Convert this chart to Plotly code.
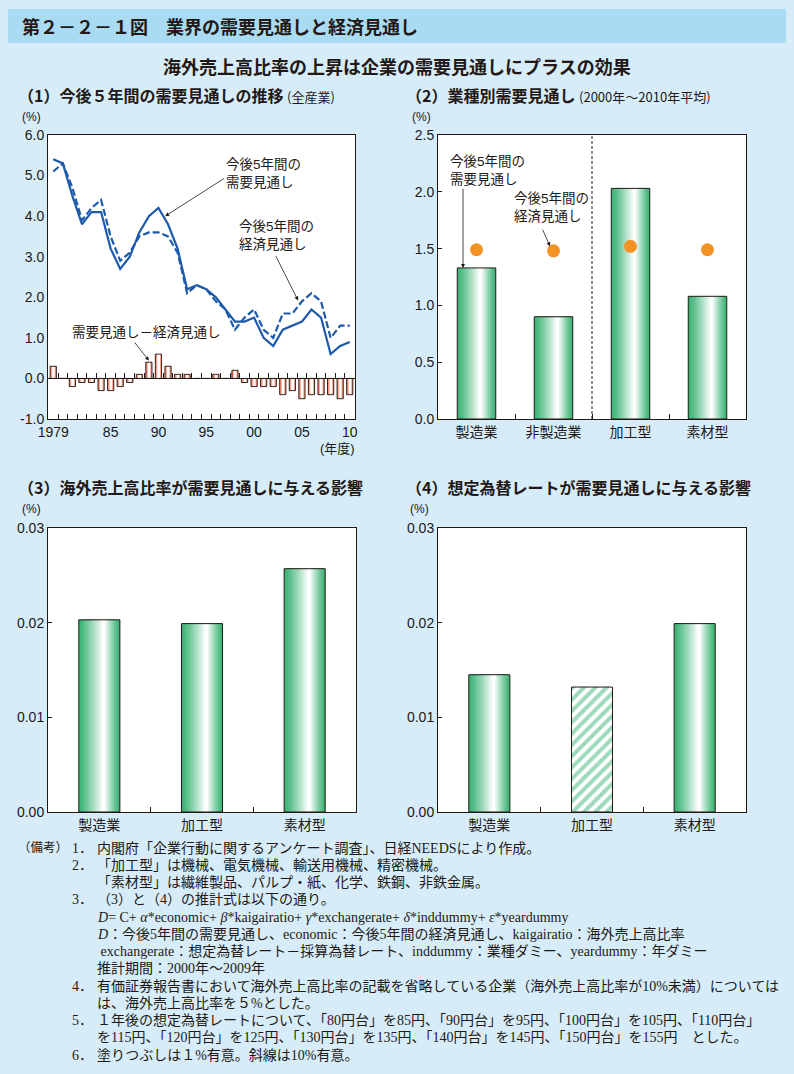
import plotly.graph_objects as go

W, H = 794, 1074
BG = '#d6edf9'
BAND = '#a9dbf3'
INK = '#231815'
JP = 'Noto Sans CJK JP'
NUM = 'Liberation Sans'
SANS_MIX = 'Liberation Sans, Noto Sans CJK JP'
SERIF_MIX = 'Liberation Serif, Noto Sans CJK JP'
BLUE = '#1d5aab'
GREEN = '#3cb475'
SALMON = '#f07b58'
ORANGE = '#f39325'

# ---------------- data ----------------
years = list(range(1979, 2011))
demand_outlook = [5.4, 5.3, 4.5, 3.8, 4.1, 4.1, 3.2, 2.7, 3.0, 3.6,
                  4.0, 4.2, 3.8, 3.2, 2.2, 2.3, 2.2, 2.0, 1.7, 1.4,
                  1.4, 1.5, 1.0, 0.8, 1.2, 1.3, 1.4, 1.7, 1.5, 0.6,
                  0.8, 0.9]
economic_outlook = [5.1, 5.3, 4.7, 3.9, 4.2, 4.4, 3.5, 2.9, 3.1, 3.5,
                    3.6, 3.6, 3.5, 3.1, 2.1, 2.3, 2.2, 1.9, 1.7, 1.2,
                    1.5, 1.7, 1.2, 1.0, 1.6, 1.6, 1.9, 2.1, 1.9, 1.0,
                    1.3, 1.3]
demand_minus_economic = [0.3, 0.0, -0.2, -0.1, -0.1, -0.3, -0.3, -0.2, -0.1, 0.1,
                         0.4, 0.6, 0.3, 0.1, 0.1, 0.0, 0.0, 0.1, 0.0, 0.2,
                         -0.1, -0.2, -0.2, -0.2, -0.4, -0.3, -0.5, -0.4, -0.4, -0.4,
                         -0.5, -0.4]
year_tickvals = [1979, 1985, 1990, 1995, 2000, 2005, 2010]
year_ticktext = ['1979', '85', '90', '95', '00', '05', '10']
p1_tickvals = [-1, 0, 1, 2, 3, 4, 5, 6]
p1_ticktext = ['-1.0', '0.0', '1.0', '2.0', '3.0', '4.0', '5.0', '6.0']

sector_cats = ['製造業', '非製造業', '加工型', '素材型']
sector_demand = [1.33, 0.90, 2.03, 1.08]
sector_economic = [1.49, 1.48, 1.52, 1.49]

impact_cats = ['製造業', '加工型', '素材型']
kaigai_effect = [0.0203, 0.0199, 0.0257]
fxrate_effect = [0.0145, 0.0132, 0.0199]

# ---------------- helpers ----------------
def fx(p):
    return p / W

def fy(p):
    return 1 - p / H

def hex2rgb(h):
    h = h.lstrip('#')
    return tuple(int(h[i:i + 2], 16) for i in (0, 2, 4))

def mix(c1, c2, t):
    a, b = hex2rgb(c1), hex2rgb(c2)
    return 'rgb(%d,%d,%d)' % tuple(round(a[i] + (b[i] - a[i]) * t) for i in range(3))

fig = go.Figure()

def grad_bars(x, y, width, edge, xa, ya, n=14, shift=0.1, lw=1.0):
    for k in range(n):
        t = k / (n - 1)
        w = width * (1 - k / n)
        col = mix(edge, '#ffffff', t ** 1.15)
        c = shift * width * t
        fig.add_trace(go.Bar(x=x, y=y, width=w, offset=c - w / 2,
                             marker=dict(color=col, line=dict(width=0)),
                             xaxis=xa, yaxis=ya, hoverinfo='skip', showlegend=False))
    fig.add_trace(go.Bar(x=x, y=y, width=width, offset=-width / 2,
                         marker=dict(color='rgba(0,0,0,0)', line=dict(color=INK, width=lw)),
                         xaxis=xa, yaxis=ya, hoverinfo='skip', showlegend=False))

# ---------------- panel 1 ----------------
grad_bars(years, demand_minus_economic, 0.65, SALMON, 'x5', 'y', n=8, shift=0.05, lw=0.9)
fig.add_trace(go.Scatter(x=years, y=economic_outlook, mode='lines',
                         line=dict(color=BLUE, width=2.2, dash='7px,3px'),
                         xaxis='x', yaxis='y', showlegend=False))
fig.add_trace(go.Scatter(x=years, y=demand_outlook, mode='lines',
                         line=dict(color=BLUE, width=2.2),
                         xaxis='x', yaxis='y', showlegend=False))

# ---------------- panel 2 ----------------
grad_bars(sector_cats, sector_demand, 0.5, GREEN, 'x2', 'y2')
fig.add_trace(go.Scatter(x=sector_cats, y=sector_economic, mode='markers',
                         marker=dict(color=ORANGE, size=13),
                         xaxis='x2', yaxis='y2', showlegend=False))

# ---------------- panel 3 ----------------
grad_bars(impact_cats, kaigai_effect, 0.4, GREEN, 'x3', 'y3')

# ---------------- panel 4 ----------------
grad_bars([impact_cats[0], impact_cats[2]], [fxrate_effect[0], fxrate_effect[2]],
          0.4, GREEN, 'x4', 'y4')
fig.add_trace(go.Bar(x=[impact_cats[1]], y=[fxrate_effect[1]], width=0.4, offset=-0.2,
                     marker=dict(color='white',
                                 pattern=dict(shape='/', fgcolor=GREEN, bgcolor='white',
                                              size=8, solidity=0.5),
                                 line=dict(color=INK, width=1.0)),
                     xaxis='x4', yaxis='y4', showlegend=False, hoverinfo='skip'))

# ---------------- axes ----------------
top_dom = [fy(419), fy(135)]
bot_dom = [fy(812), fy(528)]
p1_range = [-1, 6]
x1_range = [1978.45, 2010.55]
half_years = [y + 0.5 for y in years[:-1]]
zero_pos = top_dom[0] + (0 - p1_range[0]) / (p1_range[1] - p1_range[0]) * (top_dom[1] - top_dom[0])

base = dict(showline=True, linecolor=INK, linewidth=1, mirror=True, showgrid=False,
            zeroline=False, tickfont=dict(family=NUM, size=14, color=INK))
cat_x = dict(base, type='category', tickson='boundaries', ticks='inside', ticklen=5,
             tickcolor=INK, tickfont=dict(family=JP, size=14, color=INK))
minor_year = dict(tickmode='array', tickvals=half_years, ticks='inside', ticklen=5,
                  tickcolor=INK, tickwidth=1)

fig.update_layout(
    width=W, height=H, margin=dict(l=0, r=0, t=0, b=0, autoexpand=False),
    paper_bgcolor=BG, plot_bgcolor='white', barmode='overlay', showlegend=False,
    xaxis=dict(base, domain=[fx(48), fx(355)], anchor='y', range=x1_range,
               tickmode='array', tickvals=year_tickvals, ticktext=year_ticktext,
               ticks='inside', ticklen=5, tickcolor='rgba(0,0,0,0)', minor=minor_year),
    xaxis5=dict(overlaying='x', anchor='free', position=zero_pos, side='bottom',
                range=x1_range, showline=True, linecolor=INK, linewidth=1,
                showgrid=False, zeroline=False, showticklabels=False,
                ticks='inside', ticklen=5, tickcolor='rgba(0,0,0,0)',
                tickmode='array', tickvals=year_tickvals, minor=minor_year),
    yaxis=dict(base, domain=top_dom, anchor='x', range=p1_range,
               tickmode='array', tickvals=p1_tickvals, ticktext=p1_ticktext, ticks=''),
    xaxis2=dict(cat_x, domain=[fx(438), fx(746)], anchor='y2', range=[-0.5, 3.5],
                categoryorder='array', categoryarray=sector_cats),
    yaxis2=dict(base, domain=top_dom, anchor='x2', range=[0, 2.5], dtick=0.5,
                tickformat='.1f', ticks='inside', ticklen=4, tickcolor=INK),
    xaxis3=dict(cat_x, domain=[fx(48), fx(356)], anchor='y3', range=[-0.5, 2.5],
                categoryorder='array', categoryarray=impact_cats),
    yaxis3=dict(base, domain=bot_dom, anchor='x3', range=[0, 0.03], dtick=0.01,
                tickformat='.2f', ticks='inside', ticklen=4, tickcolor=INK),
    xaxis4=dict(cat_x, domain=[fx(438), fx(746)], anchor='y4', range=[-0.5, 2.5],
                categoryorder='array', categoryarray=impact_cats),
    yaxis4=dict(base, domain=bot_dom, anchor='x4', range=[0, 0.03], dtick=0.01,
                tickformat='.2f', ticks='inside', ticklen=4, tickcolor=INK),
)

# header band and divider line
fig.add_shape(type='rect', xref='paper', yref='paper', x0=fx(8), x1=fx(786),
              y0=fy(43), y1=fy(9), fillcolor=BAND, line=dict(width=0), layer='below')
fig.add_shape(type='line', xref='x2', yref='y2 domain', x0=1.5, x1=1.5, y0=0, y1=1,
              line=dict(color=INK, width=1, dash='3px,2px'))

# ---------------- text ----------------
def txt(x, y, s, size=14, anchor='left', family=JP, align='left', yanchor='middle'):
    fig.add_annotation(x=fx(x), y=fy(y), xref='paper', yref='paper', text=s,
                       showarrow=False, xanchor=anchor, yanchor=yanchor, align=align,
                       font=dict(family=family, size=size, color=INK))

txt(20, 26, '<b>第２－２－１図　業界の需要見通しと経済見通し</b>', size=18)
txt(397, 66, '<b>海外売上高比率の上昇は企業の需要見通しにプラスの効果</b>', size=18, anchor='center')
txt(16, 95, '<b>（1）今後５年間の需要見通しの推移</b> <span style="font-size:13px">(全産業)</span>', size=16)
txt(404, 95, '<b>（2）業種別需要見通し</b> <span style="font-size:13px">(2000年～2010年平均)</span>', size=16)
txt(16, 487, '<b>（3）海外売上高比率が需要見通しに与える影響</b>', size=16)
txt(404, 487, '<b>（4）想定為替レートが需要見通しに与える影響</b>', size=16)
for (xx, yy) in [(20, 117), (410, 117), (20, 509), (408, 509)]:
    txt(xx, yy, '(%)', size=12, family=NUM)
txt(357, 448, '(年度)', size=13, anchor='right', family=SANS_MIX)

# panel annotations
def label(xa, ya, x, y, s, size=13.5):
    fig.add_annotation(x=x, y=y, xref=xa, yref=ya, text=s, showarrow=False,
                       xanchor='left', yanchor='middle', align='left',
                       font=dict(family=SANS_MIX, size=size, color=INK))

def arrow(xa, ya, x0, y0, x1, y1):
    fig.add_annotation(x=x1, y=y1, ax=x0, ay=y0, xref=xa, yref=ya, axref=xa, ayref=ya,
                       text='', showarrow=True, arrowhead=2, arrowsize=1, arrowwidth=0.8,
                       arrowcolor=INK)

label('x', 'y', 1996.8, 5.05, '今後5年間の<br>需要見通し')
arrow('x', 'y', 1997.0, 4.95, 1990.7, 4.0)
label('x', 'y', 1998.2, 3.53, '今後5年間の<br>経済見通し')
arrow('x', 'y', 2002.2, 3.05, 2004.6, 1.92)
label('x', 'y', 1980.75, 1.14, '需要見通し－経済見通し')
arrow('x', 'y', 1987.4, 0.92, 1989.0, 0.44)

label('x2', 'y2', -0.37, 2.19, '今後5年間の<br>需要見通し')
arrow('x2', 'y2', -0.175, 2.04, -0.175, 1.33)
label('x2', 'y2', 0.46, 1.86, '今後5年間の<br>経済見通し')
arrow('x2', 'y2', 0.85, 1.68, 0.955, 1.52)

# ---------------- notes ----------------
note_numbers = ['1．', '2．', '', '3．', '', '', '', '', '4．', '', '5．', '', '6．']
note_lines = [
    '内閣府「企業行動に関するアンケート調査」、日経NEEDSにより作成。',
    '「加工型」は機械、電気機械、輸送用機械、精密機械。',
    '「素材型」は繊維製品、パルプ・紙、化学、鉄鋼、非鉄金属。',
    '（3）と（4）の推計式は以下の通り。',
    '<i>D</i>= C+ <i>α</i>*economic+ <i>β</i>*kaigairatio+ <i>γ</i>*exchangerate+ <i>δ</i>*inddummy+ <i>ε</i>*yeardummy',
    '<i>D</i>：今後5年間の需要見通し、economic：今後5年間の経済見通し、kaigairatio：海外売上高比率',
    ' exchangerate：想定為替レート－採算為替レート、inddummy：業種ダミー、yeardummy：年ダミー',
    '推計期間：2000年～2009年',
    '有価証券報告書において海外売上高比率の記載を省略している企業（海外売上高比率が10%未満）については',
    'は、海外売上高比率を５%とした。',
    '１年後の想定為替レートについて、「80円台」を85円、「90円台」を95円、「100円台」を105円、「110円台」',
    'を115円、「120円台」を125円、「130円台」を135円、「140円台」を145円、「150円台」を155円　とした。',
    '塗りつぶしは１%有意。斜線は10%有意。',
]
NOTE_SIZE = 14
txt(16, 848, '（備考）', size=12.5, family=SERIF_MIX)
for i, (num, body) in enumerate(zip(note_numbers, note_lines)):
    yy = 848 + 17.25 * i
    if num:
        txt(70, yy, num, size=NOTE_SIZE, family=SERIF_MIX)
    txt(95, yy, body, size=NOTE_SIZE, family=SERIF_MIX)

fig.write_html('out.html',
               config={'displayModeBar': False},
               post_script="document.body.style.margin='0px';"
                           "document.body.style.background='%s';" % BG)
